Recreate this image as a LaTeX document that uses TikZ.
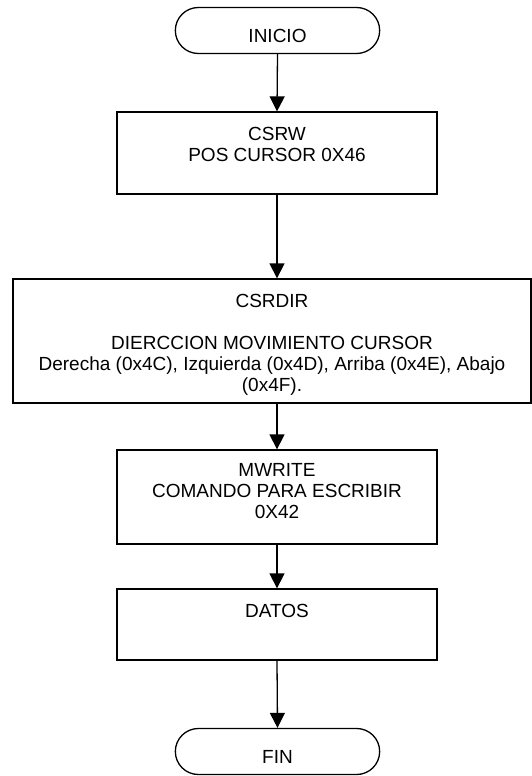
\documentclass[tikz,border=0pt]{standalone}
\usepackage{fontspec}
\setmainfont{Liberation Sans}
\usepackage{tikz}
\usetikzlibrary{arrows.meta, positioning, shapes.misc}

\begin{document}
\begin{tikzpicture}[
                x=1pt, y=-1pt,
                font=\fontsize{19}{21}\selectfont,
                term/.style={draw, line width=1.3pt, rounded rectangle, minimum width=211pt, minimum height=46pt, text height=24pt, text depth=0pt},
                proc/.style={draw, line width=1.3pt, minimum width=320pt},
                txt/.style={inner sep=0pt, align=center},
                flow/.style={line width=1.3pt, -{Triangle[length=15pt, width=15pt]}},
            ]
                \useasboundingbox (0,0) rectangle (532,776);

                % Terminals
                \node[term] (inicio) at (277.5,30.5) {INICIO};
                \node[term] (fin) at (277.5,751.5) {FIN};

                % Process boxes
                \node[proc, minimum height=82pt] (csrw) at (277,153) {};
                \node[proc, minimum width=518pt, minimum height=124pt] (csrdir) at (272,341) {};
                \node[proc, minimum height=94pt] (mwrite) at (277,497) {};
                \node[proc, minimum height=71pt] (datos) at (277,624.5) {};

                % Box texts
                \node[txt, below=16pt of csrw.north] (csrwtxt) {CSRW\\POS CURSOR 0X46};
                \node[txt, below=16pt of csrdir.north] (csrdirtxt) {CSRDIR\\[21pt]DIERCCION MOVIMIENTO CURSOR\\Derecha (0x4C), Izquierda (0x4D), Arriba (0x4E), Abajo\\(0x4F).};
                \node[txt, below=14pt of mwrite.north] (mwritetxt) {MWRITE\\COMANDO PARA ESCRIBIR\\0X42};
                \node[txt, below=16pt of datos.north] (datostxt) {DATOS};

                % Connectors
                \draw[flow] (inicio.south) -- (csrw.north);
                \draw[flow] (csrw.south) -- (csrw.south |- csrdir.north);
                \draw[flow] (mwrite.north |- csrdir.south) -- (mwrite.north);
                \draw[flow] (mwrite.south) -- (datos.north);
                \draw[flow] (datos.south) -- (fin.north);
            \end{tikzpicture}
\end{document}
